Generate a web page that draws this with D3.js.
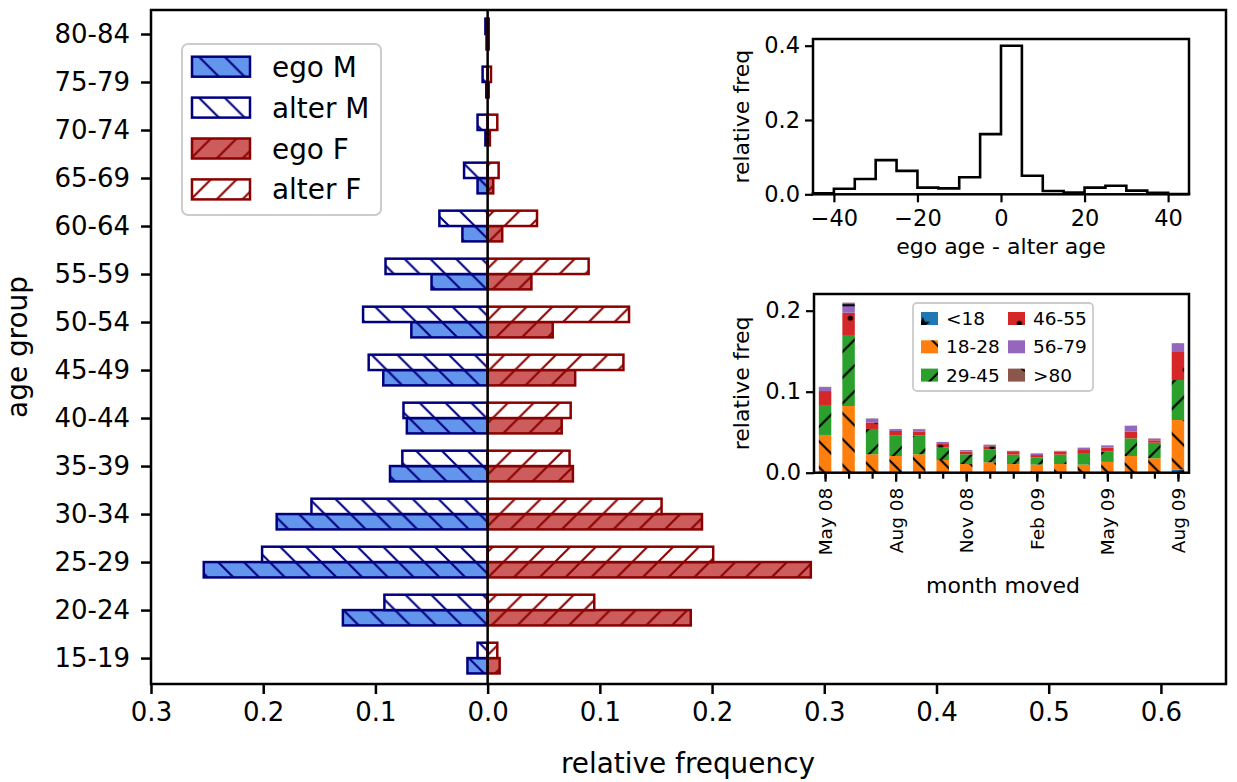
<!DOCTYPE html>
<html>
<head>
<meta charset="utf-8">
<script src="https://cdn.jsdelivr.net/npm/d3@7"></script>
<style>
  body { margin: 0; background: #fff; }
  text { font-family: "DejaVu Sans", sans-serif; }
</style>
</head>
<body>
<svg id="chart"></svg>
<script>
// age pyramid data (relative frequency per age group)
const ageGroups = ["15-19","20-24","25-29","30-34","35-39","40-44","45-49","50-54","55-59","60-64","65-69","70-74","75-79","80-84"];
const egoM   = [0.018, 0.129, 0.253, 0.188, 0.087, 0.072, 0.093, 0.068, 0.050, 0.0225, 0.009, 0.002, 0.0012, 0.001];
const alterM = [0.009, 0.092, 0.201, 0.157, 0.076, 0.075, 0.106, 0.111, 0.091, 0.043, 0.021, 0.009, 0.0045, 0.002];
const egoF   = [0.0107, 0.181, 0.288, 0.191, 0.076, 0.066, 0.078, 0.058, 0.039, 0.013, 0.005, 0.002, 0.001, 0.001];
const alterF = [0.0086, 0.095, 0.201, 0.155, 0.073, 0.074, 0.121, 0.126, 0.090, 0.044, 0.0098, 0.0086, 0.003, 0.001];
const xTicks = [-0.3, -0.2, -0.1, 0, 0.1, 0.2, 0.3, 0.4, 0.5, 0.6];

// inset 1: ego age - alter age histogram
const diffEdges = [-45,-40,-35,-30,-25,-20,-15,-10,-5,0,5,10,15,20,25,30,35,40,45];
const diffFreq  = [0.003, 0.015, 0.041, 0.092, 0.063, 0.018, 0.016, 0.046, 0.162, 0.40, 0.050, 0.009, 0.005, 0.018, 0.023, 0.010, 0.004, 0.001];

// inset 2: month moved, stacked by age class
const months = ["May 08","Jun 08","Jul 08","Aug 08","Sep 08","Oct 08","Nov 08","Dec 08","Jan 09","Feb 09","Mar 09","Apr 09","May 09","Jun 09","Jul 09","Aug 09"];
const monthLabelEvery = 3;
const moveCats = ["<18","18-28","29-45","46-55","56-79",">80"];
const under18  = [0.001, 0.0008, 0.0004, 0.0004, 0.0004, 0.0003, 0.0003, 0.0003, 0.0003, 0.0003, 0.0003, 0.0003, 0.0004, 0.0005, 0.0004, 0.004];
const age18_28 = [0.0456, 0.0815, 0.0223, 0.0202, 0.0223, 0.0154, 0.0104, 0.0125, 0.0104, 0.0097, 0.0104, 0.0097, 0.0129, 0.0201, 0.0174, 0.061];
const age29_45 = [0.037, 0.0877, 0.0313, 0.0251, 0.023, 0.0153, 0.012, 0.0161, 0.0117, 0.009, 0.0117, 0.0143, 0.0127, 0.0218, 0.0192, 0.0494];
const age46_55 = [0.0172, 0.0275, 0.008, 0.0058, 0.0053, 0.0044, 0.0033, 0.0037, 0.0032, 0.0028, 0.0036, 0.0037, 0.005, 0.0082, 0.003, 0.0346];
const age56_79 = [0.0049, 0.0122, 0.0047, 0.0023, 0.0027, 0.0024, 0.0018, 0.0018, 0.0012, 0.002, 0.0008, 0.0028, 0.0026, 0.0072, 0.0022, 0.0107];
const over80   = [0.0003, 0.0003, 0.0003, 0.0002, 0.0003, 0.0002, 0.0002, 0.0002, 0.0002, 0.0002, 0.0002, 0.0002, 0.0002, 0.0002, 0.0002, 0.0003];

const W = 1237, H = 782;
const FONT = "DejaVu Sans";
const svg = d3.select("#chart").attr("width", W).attr("height", H);
const defs = svg.append("defs");

// hatch patterns, one hatch unit = dpi/6
const S = 25.77;
function addHatch(id, bg, fg, kind, ox = 0, oy = H) {
    const tall = (kind === "star" || kind === "dot" || kind === "ring") ? 2 * S : S;
    const p = defs.append("pattern").attr("id", id)
        .attr("patternUnits", "userSpaceOnUse")
        .attr("width", S).attr("height", tall)
        .attr("patternTransform", `translate(${ox},${oy})`);
    p.append("rect").attr("width", S).attr("height", tall).attr("fill", bg);
    const lw = 2.1;
    if (kind === "back") {
        p.append("path").attr("stroke", fg).attr("stroke-width", lw)
            .attr("d", `M0,0L${S},${S}M${S-3},-3L${S+3},3M-3,${S-3}L3,${S+3}`);
    } else if (kind === "fwd") {
        p.append("path").attr("stroke", fg).attr("stroke-width", lw)
            .attr("d", `M0,${S}L${S},0M-3,3L3,-3M${S-3},${S+3}L${S+3},${S-3}`);
    } else if (kind === "hline") {
        p.append("path").attr("stroke", fg).attr("stroke-width", lw)
            .attr("d", `M0,${S/2}L${S},${S/2}`);
    } else {
        const pts = [[0,0],[S,0],[0,2*S],[S,2*S],[S/2,S]];
        pts.forEach(([px, py]) => {
            if (kind === "dot") {
                p.append("circle").attr("cx", px).attr("cy", py).attr("r", 2.6).attr("fill", fg);
            } else if (kind === "ring") {
                p.append("circle").attr("cx", px).attr("cy", py).attr("r", 4.8)
                    .attr("fill", "none").attr("stroke", fg).attr("stroke-width", 1.8);
            } else {
                const star = d3.range(10).map(k => {
                    const r = k % 2 === 0 ? 7.5 : 3.2;
                    const a = -Math.PI / 2 + k * Math.PI / 5;
                    return [px + r * Math.cos(a), py + r * Math.sin(a)];
                });
                p.append("path").attr("d", d3.line()(star) + "Z").attr("fill", fg);
            }
        });
    }
}

const navy = "#00007f", darkred = "#8b0000";
addHatch("hEgoM", "#6495ed", navy, "back");
addHatch("hAlterM", "#ffffff", navy, "back");
addHatch("hEgoF", "#cd5c5c", darkred, "fwd");
addHatch("hAlterF", "#ffffff", darkred, "fwd");

const catColors = ["#1f77b4", "#ff7f0e", "#2ca02c", "#d62728", "#9467bd", "#8c564b"];
const catKinds = ["star", "back", "fwd", "dot", "hline", "ring"];
moveCats.forEach((c, i) => addHatch("hCat" + i, catColors[i], "#000", catKinds[i]));

// ---------------- main pyramid ----------------
const x = d3.scaleLinear().domain([-0.3, 0.658]).range([151, 1226]);
const y = d3.scaleLinear().domain([-0.54, 13.5]).range([684, 10]);
const bh = 0.32;

const series = [
    { key: "ego M",   vals: egoM,   sign: -1, off: -bh, pat: "hEgoM",   edge: navy },
    { key: "alter M", vals: alterM, sign: -1, off: 0,   pat: "hAlterM", edge: navy },
    { key: "ego F",   vals: egoF,   sign: 1,  off: -bh, pat: "hEgoF",   edge: darkred },
    { key: "alter F", vals: alterF, sign: 1,  off: 0,   pat: "hAlterF", edge: darkred }
];

const main = svg.append("g");
main.append("rect").attr("x", 151).attr("y", 10).attr("width", 1075).attr("height", 674).attr("fill", "#fff");

series.forEach(s => {
    main.append("g").selectAll("rect")
        .data(s.vals)
        .enter().append("rect")
        .attr("x", d => s.sign < 0 ? x(-d) : x(0))
        .attr("width", d => Math.abs(x(d) - x(0)))
        .attr("y", (d, i) => y(i + s.off + bh))
        .attr("height", (d, i) => y(i + s.off) - y(i + s.off + bh))
        .attr("fill", `url(#${s.pat})`)
        .attr("stroke", s.edge)
        .attr("stroke-width", 2.5);
});

// zero line
main.append("line")
    .attr("x1", x(0)).attr("x2", x(0)).attr("y1", 10).attr("y2", 684)
    .attr("stroke", "#000").attr("stroke-width", 2.5);

// axes
main.append("g").attr("transform", "translate(0,684)")
    .call(d3.axisBottom(x).tickValues(xTicks)
        .tickFormat(d => d3.format(".1f")(Math.abs(d)))
        .tickSize(10).tickPadding(9))
    .attr("font-size", 26).attr("font-family", FONT)
    .call(g => g.select(".domain").remove())
    .call(g => g.selectAll(".tick line").attr("stroke-width", 2.5));

main.append("g").attr("transform", "translate(151,0)")
    .call(d3.axisLeft(y).tickValues(d3.range(ageGroups.length))
        .tickFormat(i => ageGroups[i])
        .tickSize(10).tickPadding(11))
    .attr("font-size", 26).attr("font-family", FONT)
    .call(g => g.select(".domain").remove())
    .call(g => g.selectAll(".tick line").attr("stroke-width", 2.5));

main.append("rect").attr("x", 151).attr("y", 10).attr("width", 1075).attr("height", 674)
    .attr("fill", "none").attr("stroke", "#000").attr("stroke-width", 2.5);

main.append("text").attr("x", 688).attr("y", 773)
    .attr("text-anchor", "middle").attr("font-size", 27.9).text("relative frequency");
main.append("text").attr("transform", "translate(27,347) rotate(-90)")
    .attr("text-anchor", "middle").attr("font-size", 27.9).text("age group");

// legend
const leg = main.append("g");
leg.append("rect").attr("x", 182).attr("y", 44).attr("width", 199).attr("height", 171)
    .attr("rx", 6).attr("fill", "#fff").attr("fill-opacity", 0.8)
    .attr("stroke", "#cccccc").attr("stroke-width", 2);
const legRows = leg.selectAll("g.row").data(series).enter().append("g")
    .attr("transform", (d, i) => `translate(192,${66.7 + i * 40.9})`);
legRows.append("rect").attr("x", 0).attr("y", -10).attr("width", 58).attr("height", 20)
    .attr("fill", d => `url(#${d.pat})`).attr("stroke", d => d.edge).attr("stroke-width", 2.5);
legRows.append("text").attr("x", 80).attr("y", 0).attr("dy", "0.36em")
    .attr("font-size", 27.9).text(d => d.key);

// ---------------- inset 1: age difference ----------------
const in1 = svg.append("g");
const x1 = d3.scaleLinear().domain([-45, 45]).range([813, 1189]);
const y1 = d3.scaleLinear().domain([0, 0.418]).range([194.3, 39]);
in1.append("rect").attr("x", 813).attr("y", 39).attr("width", 376).attr("height", 155.3).attr("fill", "#fff");

const stepPts = [[diffEdges[0], 0]];
diffFreq.forEach((v, i) => { stepPts.push([diffEdges[i], v]); stepPts.push([diffEdges[i + 1], v]); });
stepPts.push([diffEdges[diffEdges.length - 1], 0]);
in1.append("path")
    .attr("d", d3.line().x(d => x1(d[0])).y(d => y1(d[1]))(stepPts))
    .attr("fill", "none").attr("stroke", "#000").attr("stroke-width", 2.6)
    .attr("stroke-linejoin", "miter");

in1.append("g").attr("transform", "translate(0,194.3)")
    .call(d3.axisBottom(x1).tickValues([-40, -20, 0, 20, 40]).tickFormat(d3.format("d"))
        .tickSize(8).tickPadding(8))
    .attr("font-size", 22.5).attr("font-family", FONT)
    .call(g => g.select(".domain").remove())
    .call(g => g.selectAll(".tick line").attr("stroke-width", 2.2));
in1.append("g").attr("transform", "translate(813,0)")
    .call(d3.axisLeft(y1).tickValues([0, 0.2, 0.4]).tickFormat(d3.format(".1f"))
        .tickSize(8).tickPadding(5))
    .attr("font-size", 22.5).attr("font-family", FONT)
    .call(g => g.select(".domain").remove())
    .call(g => g.selectAll(".tick line").attr("stroke-width", 2.2));
in1.append("rect").attr("x", 813).attr("y", 39).attr("width", 376).attr("height", 155.3)
    .attr("fill", "none").attr("stroke", "#000").attr("stroke-width", 2.5);
in1.append("text").attr("x", 1001).attr("y", 254).attr("text-anchor", "middle")
    .attr("font-size", 22).text("ego age - alter age");
in1.append("text").attr("transform", "translate(749,116.7) rotate(-90)")
    .attr("text-anchor", "middle").attr("font-size", 22).text("relative freq");

// ---------------- inset 2: month moved ----------------
const in2 = svg.append("g");
const x2 = d3.scaleLinear().domain([-0.47, 15.47]).range([814, 1189]);
const y2 = d3.scaleLinear().domain([0, 0.2206]).range([472.7, 294]);
in2.append("rect").attr("x", 814).attr("y", 294).attr("width", 375).attr("height", 178.7).attr("fill", "#fff");

const catSeries = [under18, age18_28, age29_45, age46_55, age56_79, over80];
const table = months.map((m, i) => {
    const row = { month: i };
    moveCats.forEach((c, k) => { row[c] = catSeries[k][i]; });
    return row;
});
const stacked = d3.stack().keys(moveCats)(table);
const bw = 0.53;
in2.selectAll("g.layer").data(stacked).enter().append("g")
    .attr("fill", (d, k) => `url(#hCat${k})`)
    .selectAll("rect").data(d => d).enter().append("rect")
    .attr("x", d => x2(d.data.month - bw / 2))
    .attr("width", x2(bw) - x2(0))
    .attr("y", d => y2(d[1]))
    .attr("height", d => y2(d[0]) - y2(d[1]));

in2.append("g").attr("transform", "translate(0,472.7)")
    .call(d3.axisBottom(x2).tickValues(d3.range(months.length)).tickFormat("").tickSize(6))
    .call(g => g.select(".domain").remove())
    .call(g => g.selectAll(".tick line").attr("stroke-width", 2.2));
in2.append("g").attr("transform", "translate(0,472.7)")
    .call(d3.axisBottom(x2).tickValues(d3.range(0, months.length, monthLabelEvery))
        .tickFormat(i => months[i]).tickSize(9).tickPadding(7))
    .attr("font-size", 18.5).attr("font-family", FONT)
    .call(g => g.select(".domain").remove())
    .call(g => g.selectAll(".tick line").attr("stroke-width", 2.2))
    .call(g => g.selectAll(".tick text")
        .attr("transform", "rotate(-90)")
        .attr("x", -15).attr("y", 0).attr("dy", "0.35em")
        .attr("text-anchor", "end"));
in2.append("g").attr("transform", "translate(814,0)")
    .call(d3.axisLeft(y2).tickValues([0, 0.1, 0.2]).tickFormat(d3.format(".1f"))
        .tickSize(8).tickPadding(5))
    .attr("font-size", 22.5).attr("font-family", FONT)
    .call(g => g.select(".domain").remove())
    .call(g => g.selectAll(".tick line").attr("stroke-width", 2.2));
in2.append("rect").attr("x", 814).attr("y", 294).attr("width", 375).attr("height", 178.7)
    .attr("fill", "none").attr("stroke", "#000").attr("stroke-width", 2.5);
in2.append("text").attr("x", 1003).attr("y", 593).attr("text-anchor", "middle")
    .attr("font-size", 22).text("month moved");
in2.append("text").attr("transform", "translate(749,383.4) rotate(-90)")
    .attr("text-anchor", "middle").attr("font-size", 22).text("relative freq");

// legend for inset 2 (two columns, three rows); hatch anchored on each patch
const leg2 = in2.append("g");
leg2.append("rect").attr("x", 913).attr("y", 303).attr("width", 180).attr("height", 88)
    .attr("rx", 4).attr("fill", "#fff").attr("fill-opacity", 0.8)
    .attr("stroke", "#cccccc").attr("stroke-width", 1.8);
const legAnchor = [[8.5, 3], [0, -4], [-6, -6], [8.5, 2], [0, 6.5 - S / 2], [2, 9]];
const leg2Pos = moveCats.map((c, k) => [k < 3 ? 921 : 1008, 318.5 + (k % 3) * 28.3]);
moveCats.forEach((c, k) => {
    const [px, py] = leg2Pos[k];
    addHatch("hLeg" + k, catColors[k], "#000", catKinds[k], px + legAnchor[k][0], py - 6.5 + legAnchor[k][1]);
});
const leg2Rows = leg2.selectAll("g.item").data(moveCats).enter().append("g")
    .attr("transform", (d, k) => `translate(${leg2Pos[k][0]},${leg2Pos[k][1]})`);
leg2Rows.append("rect").attr("x", 0).attr("y", -6.5).attr("width", 17).attr("height", 13)
    .attr("fill", (d, k) => `url(#hLeg${k})`);
leg2Rows.append("text").attr("x", 25).attr("y", 0).attr("dy", "0.36em")
    .attr("font-size", 18.5).text(d => d);
</script>
</body>
</html>
